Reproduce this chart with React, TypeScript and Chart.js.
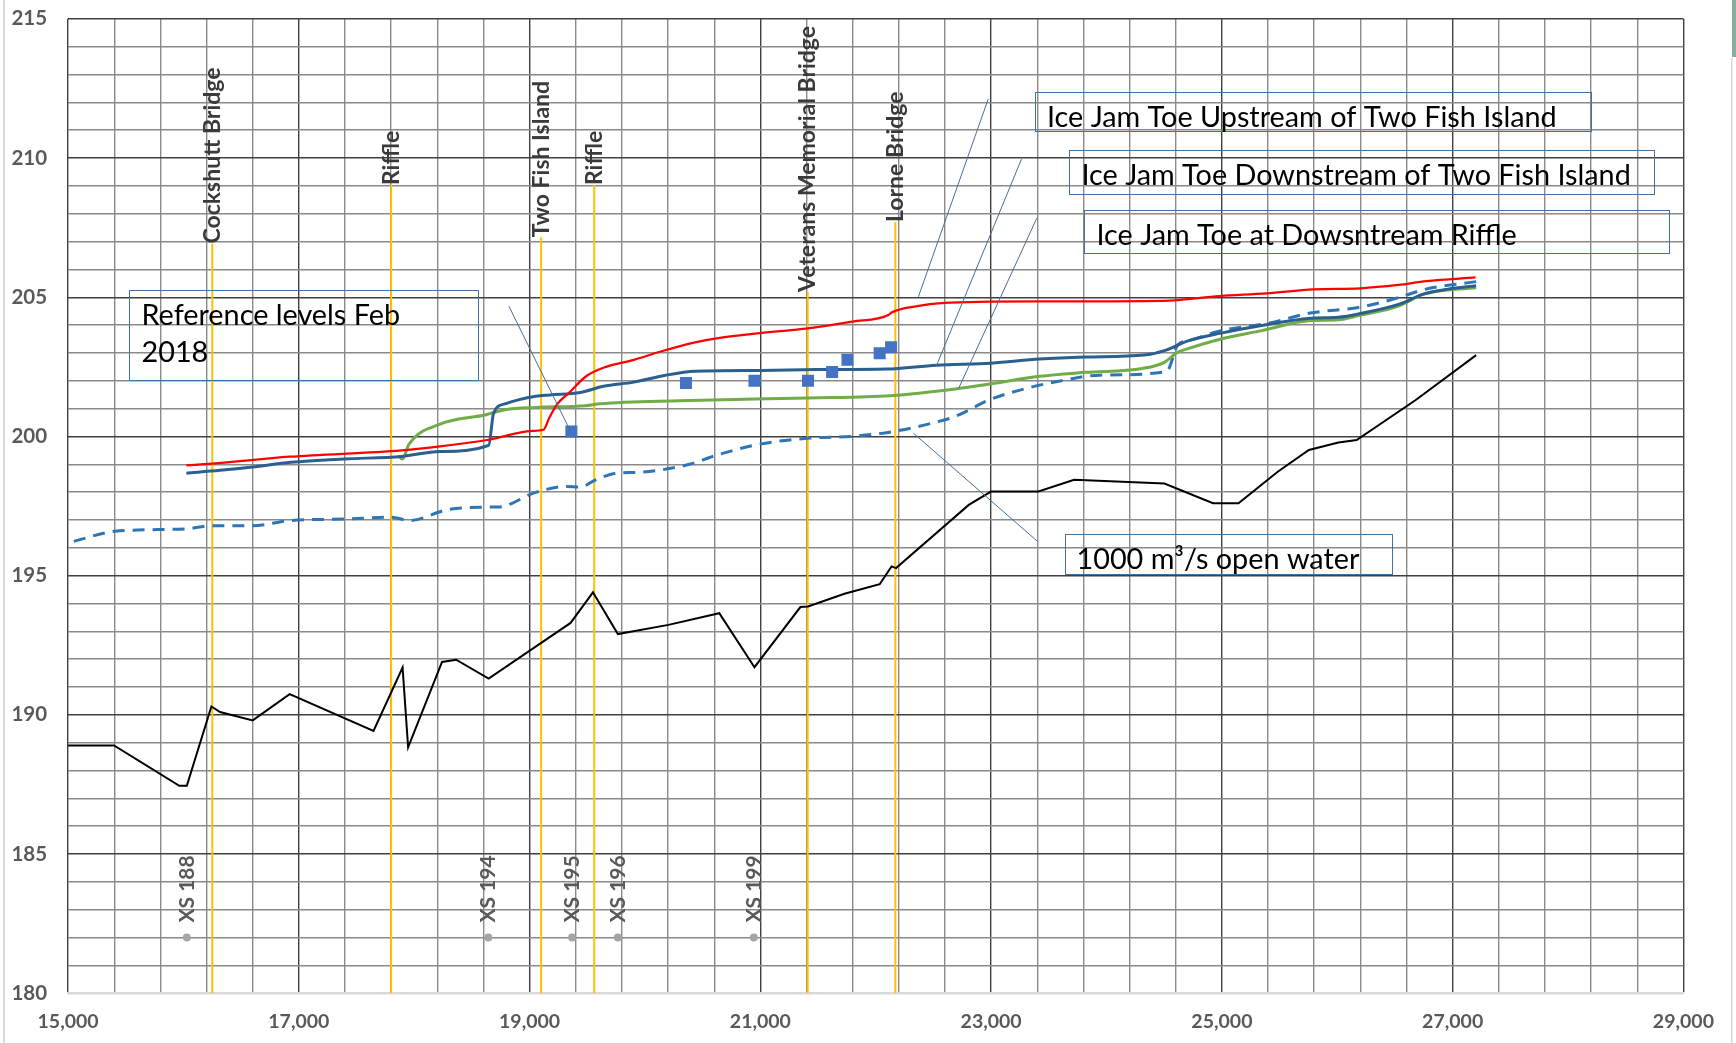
import React, { useEffect, useRef } from 'react';
import { Chart, registerables } from 'chart.js';

Chart.register(...registerables);

const W = 1736;
const H = 1043;

// Channel bed profile (thalweg)
const bedStation = [15000, 15398, 15964, 16029, 16242, 16317, 16600, 16920, 17647, 17899, 17947, 18241, 18363, 18645, 19355, 19549, 19765, 20203, 20644, 20949, 21347, 21413, 21729, 22034, 22137, 22176, 22806, 22999, 23410, 23719, 24502, 24923, 25144, 25484, 25754, 26010, 26168, 26677, 27204];
const bedElev = [188.9, 188.9, 187.45, 187.45, 190.3, 190.1, 189.8, 190.74, 189.42, 191.7, 188.83, 191.9, 191.98, 191.3, 193.3, 194.4, 192.9, 193.23, 193.65, 191.71, 193.87, 193.89, 194.35, 194.69, 195.33, 195.27, 197.54, 198.02, 198.02, 198.44, 198.31, 197.6, 197.6, 198.73, 199.51, 199.78, 199.87, 201.3, 202.92];

// Ice jam toe upstream of Two Fish Island
const upStation = [16025, 16244, 16920, 17892, 18224, 18645, 19020, 19120, 19170, 19236, 19340, 19490, 19655, 19904, 20136, 20435, 20634, 20999, 21413, 21795, 22110, 22137, 22359, 22591, 22989, 23500, 24493, 24982, 25389, 25796, 26202, 26528, 26772, 27199];
const upElev = [198.96, 199.02, 199.27, 199.5, 199.64, 199.88, 200.2, 200.24, 200.66, 201.14, 201.56, 202.16, 202.49, 202.75, 203.05, 203.38, 203.53, 203.71, 203.88, 204.12, 204.36, 204.45, 204.68, 204.8, 204.84, 204.85, 204.87, 205.04, 205.14, 205.28, 205.32, 205.44, 205.58, 205.71];

// Ice jam toe downstream of Two Fish Island
const downStation = [16025, 16317, 16599, 16930, 17395, 17892, 18224, 18645, 18688, 18787, 19053, 19174, 19440, 19639, 19904, 20170, 20435, 20999, 21496, 22093, 22525, 22999, 23420, 23818, 24326, 24502, 24713, 24993, 25344, 25765, 26010, 26186, 26537, 26747, 26958, 27204];
const downElev = [198.68, 198.78, 198.9, 199.07, 199.19, 199.28, 199.46, 199.68, 200.84, 201.17, 201.44, 201.49, 201.58, 201.8, 201.95, 202.19, 202.34, 202.37, 202.4, 202.42, 202.56, 202.63, 202.78, 202.85, 202.92, 203.08, 203.44, 203.71, 203.98, 204.24, 204.28, 204.4, 204.75, 205.11, 205.29, 205.41];

// Ice jam toe at the downstream riffle
const riffleStation = [17860, 17899, 17952, 18224, 18622, 18788, 19053, 19484, 19611, 20302, 21413, 22127, 22690, 22999, 23420, 23818, 24309, 24502, 24607, 24713, 24993, 25344, 25765, 26010, 26186, 26537, 26747, 27204];
const riffleElev = [199.3, 199.19, 199.7, 200.44, 200.78, 200.96, 201.04, 201.1, 201.17, 201.28, 201.38, 201.46, 201.7, 201.89, 202.16, 202.3, 202.44, 202.66, 203.0, 203.16, 203.5, 203.8, 204.16, 204.19, 204.34, 204.69, 205.11, 205.35];

// 1000 m³/s open water profile
const openStation = [15050, 15405, 16025, 16244, 16599, 16930, 17395, 17800, 17959, 18290, 18655, 18722, 19053, 19319, 19440, 19572, 19755, 19937, 20369, 20601, 20965, 21430, 21795, 22160, 22491, 22690, 22989, 23321, 23586, 23940, 24520, 24620, 24713, 24993, 25414, 25765, 26186, 26537, 26747, 27204];
const openElev = [196.23, 196.59, 196.68, 196.79, 196.79, 196.98, 197.03, 197.1, 196.98, 197.37, 197.46, 197.46, 197.99, 198.2, 198.18, 198.44, 198.68, 198.71, 198.98, 199.3, 199.7, 199.94, 200.0, 200.18, 200.48, 200.72, 201.32, 201.74, 201.98, 202.2, 202.33, 203.3, 203.44, 203.8, 204.07, 204.43, 204.63, 204.99, 205.27, 205.56];

// Reference water levels, February 2018
const refStation = [19362, 20355, 20949, 21413, 21622, 21755, 22034, 22133];
const refElev = [200.18, 201.92, 202.0, 202.0, 202.31, 202.75, 202.99, 203.2];

// Landmarks along the river
const landmarkNames = ['Cockshutt Bridge', 'Riffle', 'Two Fish Island', 'Riffle', 'Veterans Memorial Bridge', 'Lorne Bridge'];
const landmarkStations = [16250, 17800, 19100, 19560, 21410, 22170];
const landmarkTops = [206.93, 209.03, 207.15, 209.03, 205.19, 207.7];

// Surveyed cross sections
const sectionNames = ['XS 188', 'XS 194', 'XS 195', 'XS 196', 'XS 199'];
const sectionStations = [16029, 18642, 19368, 19765, 20943];
const sectionElev = [182, 182, 182, 182, 182];

// Axis range and tick spacing
const xMin = 15000;
const xMax = 29000;
const xStep = 400;
const xLabelEvery = 2000;
const yMin = 180;
const yMax = 215;
const yStep = 1;
const yLabelEvery = 5;

// Callout boxes: [x1, y1, x2, y2] in data units, leader [xa, ya, xb, yb]
const callouts = [
  { lines: ['Reference levels Feb', '2018'], box: [15532, 205.26, 18561, 202.03], leader: [18820, 204.68, 19349, 200.23] },
  { lines: ['Ice Jam Toe Upstream of Two Fish Island'], box: [23380, 212.38, 28203, 210.98], leader: [22975, 212.12, 22370, 205.02] },
  { lines: ['Ice Jam Toe Downstream of Two Fish Island'], box: [23679, 210.29, 28745, 208.71], leader: [23263, 209.96, 22527, 202.55] },
  { lines: ['Ice Jam Toe at Dowsntream Riffle'], box: [23809, 208.13, 28875, 206.59], leader: [23396, 207.84, 22719, 201.73] },
  { lines: ['1000 m³/s open water'], box: [23636, 196.51, 26474, 195.08], leader: [22328, 200.11, 23399, 196.24] },
];

const pts = (xs: number[], ys: number[]) => xs.map((x, i) => ({ x, y: ys[i] }));

const overlayPlugin = {
  id: 'overlay',
  beforeDraw(chart: any) {
    const ctx = chart.ctx;
    ctx.save();
    ctx.fillStyle = '#ffffff';
    ctx.fillRect(0, 0, W, H);
    ctx.fillStyle = '#D9D9D9';
    ctx.fillRect(3, 0, 2, H);
    ctx.fillRect(1731, 58, 1.5, H - 58);
    ctx.fillStyle = '#86AE9F';
    ctx.fillRect(1732, 0, 4, 57);
    ctx.restore();
  },
  afterDatasetsDraw(chart: any) {
    const { ctx } = chart;
    const xs = chart.scales.x;
    const ys = chart.scales.y;
    ctx.save();

    // landmark names, reading upward from the top of each marker line
    ctx.font = 'bold 23px Lato';
    ctx.fillStyle = '#3A3A3A';
    ctx.textAlign = 'left';
    ctx.textBaseline = 'middle';
    landmarkNames.forEach((name, i) => {
      const px = xs.getPixelForValue(landmarkStations[i]);
      const py = ys.getPixelForValue(landmarkTops[i]);
      ctx.save();
      ctx.translate(px, py);
      ctx.rotate(-Math.PI / 2);
      ctx.fillText(name, 0, 0);
      ctx.restore();
    });

    // cross-section labels above their markers
    ctx.font = 'bold 21px Lato';
    ctx.fillStyle = '#595959';
    sectionNames.forEach((name, i) => {
      const px = xs.getPixelForValue(sectionStations[i]);
      const py = ys.getPixelForValue(sectionElev[i]) - 15;
      ctx.save();
      ctx.translate(px, py);
      ctx.rotate(-Math.PI / 2);
      ctx.fillText(name, 0, 0);
      ctx.restore();
    });

    // callout boxes with leader lines
    ctx.strokeStyle = '#41719C';
    ctx.lineWidth = 1;
    ctx.font = '28.8px Lato';
    ctx.fillStyle = '#000000';
    ctx.textBaseline = 'alphabetic';
    callouts.forEach((c) => {
      const [x1, y1, x2, y2] = c.box;
      const l = xs.getPixelForValue(x1);
      const t = ys.getPixelForValue(y1);
      const r = xs.getPixelForValue(x2);
      const b = ys.getPixelForValue(y2);
      ctx.strokeRect(Math.round(l) + 0.5, Math.round(t) + 0.5, Math.round(r - l), Math.round(b - t));
      const [xa, ya, xb, yb] = c.leader;
      ctx.beginPath();
      ctx.moveTo(xs.getPixelForValue(xa), ys.getPixelForValue(ya));
      ctx.lineTo(xs.getPixelForValue(xb), ys.getPixelForValue(yb));
      ctx.stroke();
      c.lines.forEach((line, k) => {
        ctx.fillText(line, l + 12, t + 35 + k * 36.7);
      });
    });
    ctx.restore();
  },
};

export default function App() {
  const ref = useRef<HTMLCanvasElement | null>(null);

  useEffect(() => {
    const canvas = ref.current;
    if (!canvas) return;

    const landmarkSets = landmarkStations.map((s, i) => ({
      type: 'line' as const,
      label: landmarkNames[i],
      data: [{ x: s, y: yMin }, { x: s, y: landmarkTops[i] }],
      borderColor: '#FFC000',
      borderWidth: 2,
      pointRadius: 0,
      order: 10,
    }));

    const chart = new Chart(canvas, {
      type: 'scatter',
      data: {
        datasets: [
          {
            label: 'Reference levels Feb 2018',
            data: pts(refStation, refElev),
            pointStyle: 'rect',
            pointRadius: 8.5,
            backgroundColor: '#4472C4',
            borderWidth: 0,
            showLine: false,
            order: 0,
          },
          {
            type: 'line',
            label: 'Ice Jam Toe Upstream of Two Fish Island',
            data: pts(upStation, upElev),
            borderColor: '#FF0000',
            borderWidth: 2.25,
            pointRadius: 0,
            cubicInterpolationMode: 'monotone',
            order: 1,
          },
          {
            type: 'line',
            label: 'Ice Jam Toe Downstream of Two Fish Island',
            data: pts(downStation, downElev),
            borderColor: '#2B5F8F',
            borderWidth: 3,
            pointRadius: 0,
            cubicInterpolationMode: 'monotone',
            order: 2,
          },
          {
            type: 'line',
            label: 'Ice Jam Toe at Dowsntream Riffle',
            data: pts(riffleStation, riffleElev),
            borderColor: '#70AD47',
            borderWidth: 3,
            pointRadius: 0,
            cubicInterpolationMode: 'monotone',
            order: 3,
          },
          {
            type: 'line',
            label: '1000 m³/s open water',
            data: pts(openStation, openElev),
            borderColor: '#2E75B6',
            borderWidth: 3,
            borderDash: [12, 8],
            pointRadius: 0,
            cubicInterpolationMode: 'monotone',
            order: 4,
          },
          {
            type: 'line',
            label: 'Channel bed',
            data: pts(bedStation, bedElev),
            borderColor: '#000000',
            borderWidth: 2,
            pointRadius: 0,
            tension: 0,
            order: 5,
          },
          {
            label: 'Cross sections',
            data: pts(sectionStations, sectionElev),
            pointRadius: 4,
            backgroundColor: '#A5A5A5',
            borderWidth: 0,
            showLine: false,
            order: 6,
          },
          ...landmarkSets,
        ] as any,
      },
      options: {
        responsive: false,
        animation: false,
        events: [],
        layout: { padding: { top: 18.8, right: 52.6, bottom: 0, left: 0 } },
        plugins: {
          legend: { display: false },
          tooltip: { enabled: false },
        },
        scales: {
          x: {
            type: 'linear',
            min: xMin,
            max: xMax,
            afterFit: (s: any) => {
              s.height = H - 993.2;
              s.paddingLeft = 0;
              s.paddingRight = 0;
            },
            border: { display: true, color: '#D9D9D9', width: 2 },
            grid: {
              drawTicks: false,
              color: (c: any) => ((c.tick.value - xMin) % xLabelEvery === 0 ? '#404040' : '#8A8A8A'),
              lineWidth: 1.4,
            },
            ticks: {
              stepSize: xStep,
              autoSkip: false,
              maxRotation: 0,
              padding: 17,
              color: '#595959',
              font: { family: 'Lato', weight: 'bold', size: 19.5 },
              callback: (v: any) => ((v - xMin) % xLabelEvery === 0 ? Number(v).toLocaleString('en-US') : ''),
            },
          },
          y: {
            type: 'linear',
            min: yMin,
            max: yMax,
            afterFit: (s: any) => {
              s.width = 68.1;
              s.paddingTop = 0;
              s.paddingBottom = 0;
            },
            border: { display: false },
            grid: {
              drawTicks: false,
              color: (c: any) => (c.tick.value === yMin ? '#D9D9D9' : c.tick.value % yLabelEvery === 0 ? '#404040' : '#8A8A8A'),
              lineWidth: 1.4,
            },
            ticks: {
              stepSize: yStep,
              autoSkip: false,
              padding: 21,
              color: '#595959',
              font: { family: 'Lato', weight: 'bold', size: 20.5 },
              callback: (v: any) => (v % yLabelEvery === 0 ? String(v) : ''),
            },
          },
        },
      },
      plugins: [overlayPlugin],
    } as any);

    return () => chart.destroy();
  }, []);

  return (
    <div style={{ position: 'absolute', left: 0, top: 0, width: W, height: H, background: '#fff' }}>
      <canvas ref={ref} width={W} height={H} style={{ display: 'block', width: W, height: H }} />
    </div>
  );
}
